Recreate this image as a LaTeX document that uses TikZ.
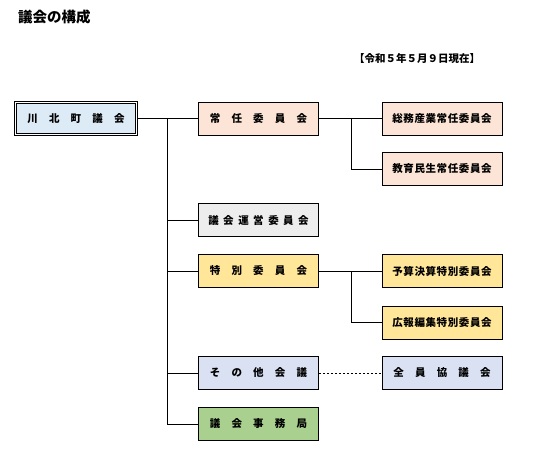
\documentclass[tikz,border=0pt]{standalone}
\usepackage{fontspec}
\setmainfont{Liberation Serif}
\newfontfamily\jp{Noto Sans CJK JP}
\newcommand{\ga}{\hspace{11.2pt}}
\newcommand{\gb}{\hspace{4.5pt}}
\newcommand{\gc}{\hspace{0.6pt}}
\definecolor{cRoot}{HTML}{DDEBF7}
\definecolor{cChonin}{HTML}{FCE4D6}
\definecolor{cUnei}{HTML}{EDEDED}
\definecolor{cTokubetsu}{HTML}{FFE699}
\definecolor{cSonota}{HTML}{D9E1F2}
\definecolor{cJimu}{HTML}{A9D08E}
\begin{document}
\begin{tikzpicture}[x=1pt,y=-1pt,
  box/.style={draw=black,line width=0.9pt,minimum width=120pt,minimum height=33pt,inner sep=0pt,font=\jp\bfseries\fontsize{10.5}{12}\selectfont},
  link/.style={draw=black,line width=0.8pt}]
\useasboundingbox (0,0) rectangle (538,452);
\node[font=\jp\bfseries\fontsize{14.5}{16}\selectfont,anchor=west,inner sep=0pt] (title) at (18,17) {議会の構成};
\node[font=\jp\bfseries\fontsize{10.5}{12}\selectfont,inner sep=0pt] (date) at (417,59) {【令和５年５月９日現在】};
\node[box,double=white,line width=0.8pt,double distance=1.4pt,fill=cRoot,minimum width=120.5pt,minimum height=32.5pt,outer sep=1.5pt] (root) at (76,118.5) {川\ga 北\ga 町\ga 議\ga 会};
\node[box,fill=cChonin] (chonin) at (258.5,118.5) {常\ga 任\ga 委\ga 員\ga 会};
\node[box,fill=cUnei] (unei) at (258.5,220) {議\gb 会\gb 運\gb 営\gb 委\gb 員\gb 会};
\node[box,fill=cTokubetsu] (toku) at (258.5,271) {特\ga 別\ga 委\ga 員\ga 会};
\node[box,fill=cSonota] (sonota) at (258.5,373) {そ\ga の\ga 他\ga 会\ga 議};
\node[box,fill=cJimu] (jimu) at (258.5,424) {議\ga 会\ga 事\ga 務\ga 局};
\node[box,fill=cChonin] (somu) at (442,118.5) {総\gc 務\gc 産\gc 業\gc 常\gc 任\gc 委\gc 員\gc 会};
\node[box,fill=cChonin] (kyoiku) at (442,169) {教\gc 育\gc 民\gc 生\gc 常\gc 任\gc 委\gc 員\gc 会};
\node[box,fill=cTokubetsu] (yosan) at (442,271) {予\gc 算\gc 決\gc 算\gc 特\gc 別\gc 委\gc 員\gc 会};
\node[box,fill=cTokubetsu] (koho) at (442,322.5) {広\gc 報\gc 編\gc 集\gc 特\gc 別\gc 委\gc 員\gc 会};
\node[box,fill=cSonota] (zenin) at (442,373) {全\ga 員\ga 協\ga 議\ga 会};
\coordinate (t) at (167,118.5);
\coordinate (b1) at (351,118.5);
\coordinate (b2) at (351,271);
\draw[link] (root.east) -- (chonin.west);
\draw[link] (t) |- (unei.west);
\draw[link] (t) |- (toku.west);
\draw[link] (t) |- (sonota.west);
\draw[link] (t) |- (jimu.west);
\draw[link] (chonin.east) -- (somu.west);
\draw[link] (b1) |- (kyoiku.west);
\draw[link] (toku.east) -- (yosan.west);
\draw[link] (b2) |- (koho.west);
\draw[link,dashed,dash pattern=on 2.5pt off 1.5pt] (sonota.east) -- (zenin.west);
\end{tikzpicture}
\end{document}
